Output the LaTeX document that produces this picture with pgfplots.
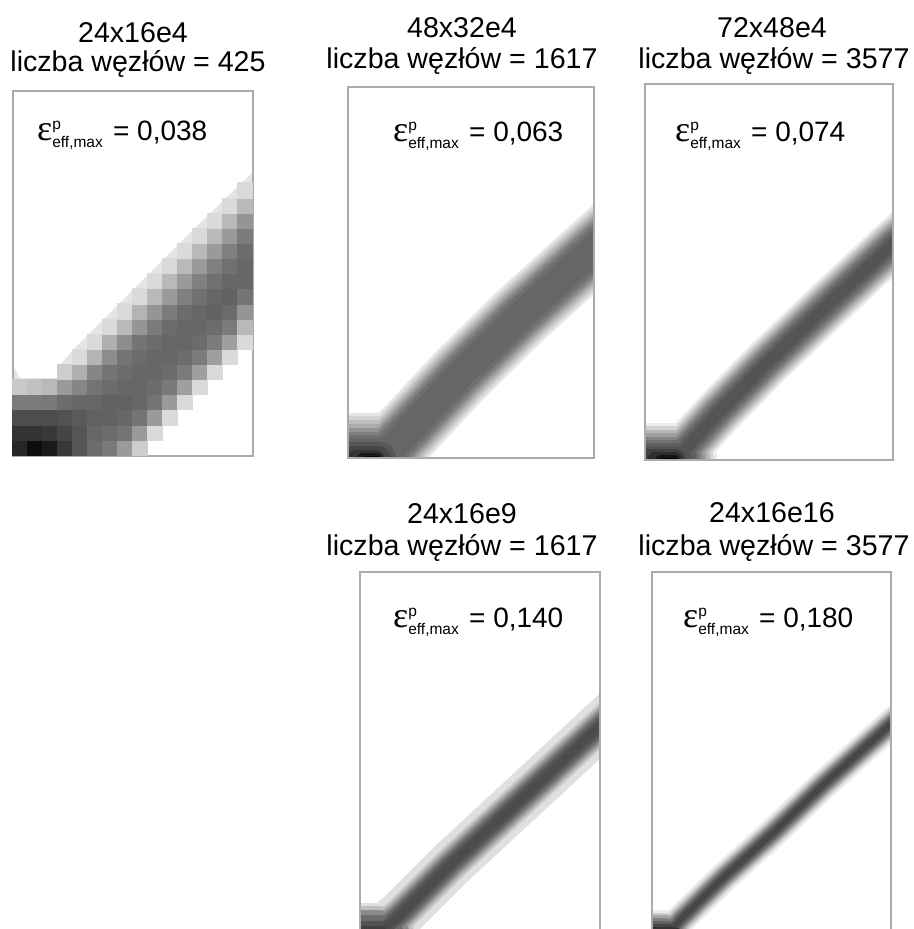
\documentclass[border=0pt]{standalone}
\usepackage{pgfplots}
\usepackage{pgfplotstable}
\usepackage{fontspec}
\pgfplotsset{compat=1.18}
\setmainfont{Liberation Sans}
\newfontfamily\epsf{Liberation Serif}
\pgfplotsset{panel/.style n args={4}{
  at={(#1pt,{(929-#4)*1pt})},anchor=south west,scale only axis,
  width={(#2-#1)*1pt},height={(#4-#3)*1pt},
  xmin=#1,xmax=#2,ymin=#3,ymax=#4,y dir=reverse,enlargelimits=false,
  xtick=\empty,ytick=\empty,axis on top,
  axis line style={color=black!33,line width=1.3pt},
  tick style={draw=none}}}
\newcommand\bandl[3]{\addplot[no marks,color=black!#1,line width=#2pt,line join=round] table {#3};}
\newcommand\blob[5]{\addplot[no marks,color=black!#1,line width=#2pt,line cap=round] coordinates {(#3,#5)(#4,#5)};}
\newcommand\T[3]{\node[anchor=base,inner sep=0pt,font=\fontsize{28.6}{30}\selectfont] at (#1,{929-#2}) {#3};}
\newcommand\E[3]{\node[anchor=base west,inner sep=0pt] at (#1,{929-#2}) {{\epsf\fontsize{36}{36}\selectfont ε}\rlap{\raisebox{11pt}{\fontsize{15.5}{16}\selectfont p}}\raisebox{-7pt}{\fontsize{15.5}{16}\selectfont eff,max}\hspace{2.5pt}\fontsize{28}{30}\selectfont\ = #3};}
\pgfplotstableread{
x y
620 226
594 249
520 316
460 375
407 432
373 467
340 495
}\bandB
\pgfplotstableread{
x y
915 225
893 244
835 298
768 362
718 413
678 457
640 495
}\bandC
\pgfplotstableread{
x y
625 703
600 726
517 803
450 865
400 915
360 950
}\bandD
\pgfplotstableread{
x y
915 703
891 724
823 785
773 833
723 878
680 920
640 970
}\bandE
\pgfplotstableread[row sep=\\]{
c r g\\
0 0 0.15\\1 0 0.05\\2 0 0.1\\3 0 0.22\\4 0 0.33\\5 0 0.42\\6 0 0.47\\7 0 0.6\\8 0 0.8\\
0 1 0.2\\1 1 0.2\\2 1 0.22\\3 1 0.27\\4 1 0.33\\5 1 0.4\\6 1 0.42\\7 1 0.45\\8 1 0.6\\9 1 0.85\\
0 2 0.3\\1 2 0.3\\2 2 0.3\\3 2 0.32\\4 2 0.35\\5 2 0.38\\6 2 0.38\\7 2 0.4\\8 2 0.45\\9 2 0.6\\10 2 0.85\\
0 3 0.48\\1 3 0.48\\2 3 0.47\\3 3 0.42\\4 3 0.4\\5 3 0.4\\6 3 0.38\\7 3 0.38\\8 3 0.4\\9 3 0.45\\10 3 0.6\\11 3 0.85\\
0 4 0.78\\1 4 0.75\\2 4 0.72\\3 4 0.6\\4 4 0.52\\5 4 0.45\\6 4 0.42\\7 4 0.4\\8 4 0.4\\9 4 0.42\\10 4 0.47\\11 4 0.62\\12 4 0.85\\
3 5 0.8\\4 5 0.68\\5 5 0.52\\6 5 0.45\\7 5 0.42\\8 5 0.4\\9 5 0.4\\10 5 0.42\\11 5 0.48\\12 5 0.62\\13 5 0.85\\
4 6 0.85\\5 6 0.7\\6 6 0.55\\7 6 0.45\\8 6 0.42\\9 6 0.4\\10 6 0.4\\11 6 0.42\\12 6 0.48\\13 6 0.62\\14 6 0.85\\
5 7 0.85\\6 7 0.68\\7 7 0.55\\8 7 0.45\\9 7 0.42\\10 7 0.4\\11 7 0.4\\12 7 0.42\\13 7 0.48\\14 7 0.62\\15 7 0.85\\
6 8 0.85\\7 8 0.72\\8 8 0.58\\9 8 0.48\\10 8 0.42\\11 8 0.4\\12 8 0.4\\13 8 0.42\\14 8 0.48\\15 8 0.72\\
7 9 0.85\\8 9 0.7\\9 9 0.58\\10 9 0.48\\11 9 0.42\\12 9 0.4\\13 9 0.38\\14 9 0.42\\15 9 0.58\\
8 10 0.85\\9 10 0.72\\10 10 0.6\\11 10 0.5\\12 10 0.44\\13 10 0.4\\14 10 0.38\\15 10 0.45\\
9 11 0.85\\10 11 0.72\\11 11 0.6\\12 11 0.5\\13 11 0.44\\14 11 0.4\\15 11 0.4\\
10 12 0.85\\11 12 0.72\\12 12 0.6\\13 12 0.5\\14 12 0.44\\15 12 0.4\\
11 13 0.85\\12 13 0.72\\13 13 0.6\\14 13 0.5\\15 13 0.42\\
12 14 0.85\\13 14 0.72\\14 14 0.6\\15 14 0.48\\
13 15 0.85\\14 15 0.72\\15 15 0.58\\
14 16 0.85\\15 16 0.72\\
15 17 0.85\\
}\cellsA
\begin{document}
\begin{tikzpicture}[x=1pt,y=1pt]
\path[use as bounding box] (0,0) rectangle (913,929);
% panel 1
\begin{axis}[panel={13}{253}{91}{456},colormap={bw}{gray(0cm)=(0); gray(1cm)=(1)},point meta min=0,point meta max=1]
\addplot[fill=black!10,draw=none] coordinates {(12.7,365)(20,378)(58,378)(58,367)(73,350)(88,335)(133,290)(193,230)(253,172)(253,300)(100,430)(13,440)} --cycle;
\addplot[scatter,only marks,mark=square*,mark size=7.6pt,mark options={line width=0pt},scatter/use mapped color={draw=mapped color,fill=mapped color},point meta=explicit]
 table[x expr={12.7+15*(\thisrow{c}+0.5)},y expr={455.3-15.13*(\thisrow{r}+0.5)},meta=g] {\cellsA};
\end{axis}
% panel 2
\begin{axis}[panel={348}{594}{87}{458}]
\bandl{10}{67}{\bandB}\blob{10}{90}{340}{385}{458}
\bandl{17}{62}{\bandB}\blob{17}{83}{340}{385}{458}
\bandl{25}{57}{\bandB}\blob{25}{75}{340}{385}{458}
\bandl{33}{52}{\bandB}\blob{33}{67}{340}{385}{458}
\bandl{42}{47}{\bandB}\blob{42}{60}{340}{385}{458}
\bandl{50}{42}{\bandB}\blob{50}{52}{340}{385}{458}
\bandl{56}{36}{\bandB}\blob{56}{46}{340}{385}{458}
\bandl{60}{28}{\bandB}\blob{60}{40}{340}{385}{458}
\blob{66}{32}{340}{380}{458}
\blob{72}{24}{345}{378}{458}
\blob{80}{16}{355}{376}{458}
\blob{90}{9}{362}{378}{458}
\blob{98}{4}{366}{378}{458}
\end{axis}
% panel 3
\begin{axis}[panel={645}{893}{84}{460}]
\bandl{8}{49}{\bandC}\blob{8}{74}{635}{680}{460}
\bandl{18}{44}{\bandC}\blob{18}{67}{635}{680}{460}
\bandl{28}{39}{\bandC}\blob{28}{60}{635}{680}{460}
\bandl{38}{34}{\bandC}\blob{38}{53}{635}{680}{460}
\bandl{48}{29}{\bandC}\blob{48}{46}{635}{680}{460}
\bandl{56}{24}{\bandC}\blob{56}{39}{635}{680}{460}
\bandl{62}{18}{\bandC}\blob{62}{33}{635}{680}{460}
\bandl{67}{12}{\bandC}\blob{67}{28}{635}{678}{460}
\blob{74}{22}{640}{675}{460}
\blob{82}{15}{655}{675}{460}
\blob{92}{9}{660}{675}{460}
\blob{99}{4}{664}{674}{460}
\end{axis}
% panel 4
\begin{axis}[panel={360}{600}{572}{948}]
\bandl{12}{48}{\bandD}\blob{12}{90}{350}{376}{948}
\bandl{14}{36}{\bandD}
\bandl{22}{34}{\bandD}\blob{25}{84}{350}{376}{948}
\bandl{32}{30}{\bandD}
\bandl{42}{26}{\bandD}\blob{45}{76}{350}{376}{948}
\bandl{52}{22}{\bandD}
\bandl{60}{18}{\bandD}\blob{58}{66}{350}{376}{948}
\bandl{67}{13}{\bandD}\blob{68}{54}{350}{376}{948}
\bandl{70}{8}{\bandD}\blob{75}{44}{350}{376}{948}
\end{axis}
% panel 5
\begin{axis}[panel={652}{891}{572}{948}]
\bandl{7}{30}{\bandE}\blob{7}{60}{640}{664}{940}
\bandl{15}{26}{\bandE}\blob{20}{55}{640}{664}{940}
\bandl{28}{22}{\bandE}\blob{35}{50}{640}{664}{940}
\bandl{42}{18}{\bandE}\blob{50}{44}{640}{664}{940}
\bandl{55}{14}{\bandE}\blob{62}{38}{640}{664}{940}
\bandl{65}{10}{\bandE}\blob{72}{32}{650}{668}{940}
\bandl{72}{6}{\bandE}\blob{80}{26}{655}{672}{940}
\end{axis}
\T{133}{43}{24x16e4}\T{138}{72}{liczba węzłów = 425}
\T{462}{38}{48x32e4}\T{462}{69}{liczba węzłów = 1617}
\T{772}{38}{72x48e4}\T{774}{69}{liczba węzłów = 3577}
\T{462}{524}{24x16e9}\T{462}{556}{liczba węzłów = 1617}
\T{772}{523}{24x16e16}\T{774}{556}{liczba węzłów = 3577}
\E{37}{141}{0,038}
\E{393}{142}{0,063}
\E{675}{142}{0,074}
\E{393}{628}{0,140}
\E{683}{628}{0,180}
\end{tikzpicture}
\end{document}
